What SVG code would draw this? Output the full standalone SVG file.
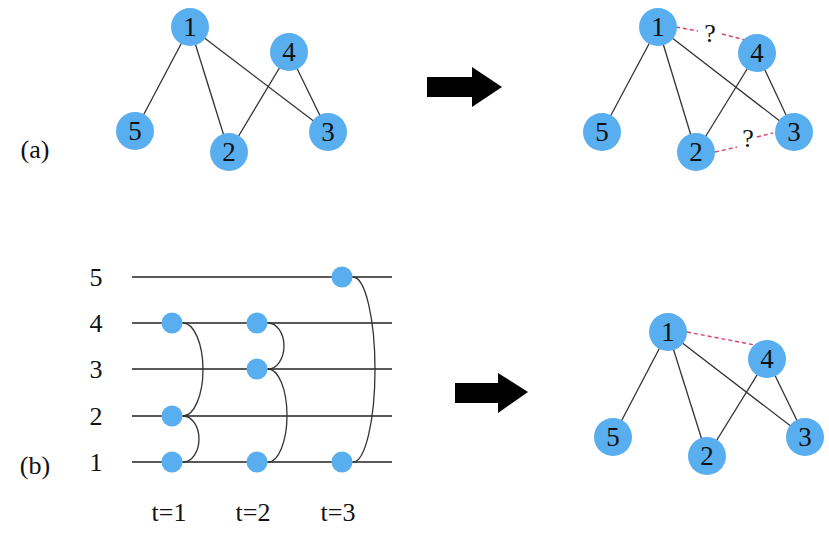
<svg xmlns="http://www.w3.org/2000/svg" width="829" height="544" viewBox="0 0 829 544">
<style>
.e{stroke:#333;stroke-width:1.3;fill:none}
.d{stroke:#d8416a;stroke-width:1.4;stroke-dasharray:4 3;fill:none}
.n{fill:#58aeef}
.t{font-family:"Liberation Serif","Times New Roman",serif;font-size:27px;fill:#111;text-anchor:middle}
.s{font-family:"Liberation Serif","Times New Roman",serif;font-size:26px;fill:#111;text-anchor:middle}
.q{font-family:"Liberation Serif","Times New Roman",serif;font-size:26px;fill:#111;text-anchor:middle}
.h{stroke:#222;stroke-width:1.3}
.a{fill:#000}
</style>
<rect width="829" height="544" fill="#fff"/>
<g id="connectors">
<line class="e" x1="190" y1="27" x2="135" y2="131"/>
<line class="e" x1="190" y1="27" x2="229" y2="152"/>
<line class="e" x1="190" y1="27" x2="328" y2="132"/>
<line class="e" x1="289" y1="52" x2="229" y2="152"/>
<line class="e" x1="289" y1="52" x2="328" y2="132"/>
<line class="e" x1="658" y1="27" x2="602" y2="132"/>
<line class="e" x1="658" y1="27" x2="696" y2="152"/>
<line class="e" x1="658" y1="27" x2="794" y2="132"/>
<line class="e" x1="757" y1="53" x2="696" y2="152"/>
<line class="e" x1="757" y1="53" x2="794" y2="132"/>
<line class="d" x1="676" y1="27" x2="698" y2="31"/>
<line class="d" x1="722" y1="34" x2="745" y2="40"/>
<line class="d" x1="715" y1="152" x2="737" y2="147"/>
<line class="d" x1="757" y1="137" x2="773" y2="133"/>
<line class="e" x1="668" y1="332" x2="613" y2="437"/>
<line class="e" x1="668" y1="332" x2="707" y2="456"/>
<line class="e" x1="668" y1="332" x2="805" y2="437"/>
<line class="e" x1="767" y1="359" x2="707" y2="456"/>
<line class="e" x1="767" y1="359" x2="805" y2="437"/>
<line class="d" x1="687" y1="332" x2="755" y2="345"/>
<line class="h" x1="132" y1="277" x2="392" y2="277"/>
<line class="h" x1="132" y1="323" x2="392" y2="323"/>
<line class="h" x1="132" y1="369" x2="392" y2="369"/>
<line class="h" x1="132" y1="416" x2="392" y2="416"/>
<line class="h" x1="132" y1="462" x2="392" y2="462"/>
<path class="e" d="M183 323 A20 46.5 0 0 1 183 416"/>
<path class="e" d="M183 416 A16 23 0 0 1 183 462"/>
<path class="e" d="M268 323 A16 23 0 0 1 268 369"/>
<path class="e" d="M268 369 A19 46.5 0 0 1 268 462"/>
<path class="e" d="M353 277 A22 92.5 0 0 1 353 462"/>
</g>
<g id="a-left">
<g id="a1"><circle class="n" cx="190" cy="27" r="19"/><text class="t" x="190" y="36">1</text></g>
<g id="a4"><circle class="n" cx="289" cy="52" r="19"/><text class="t" x="289" y="61">4</text></g>
<g id="a5"><circle class="n" cx="135" cy="131" r="19"/><text class="t" x="135" y="140">5</text></g>
<g id="a2"><circle class="n" cx="229" cy="152" r="19"/><text class="t" x="229" y="161">2</text></g>
<g id="a3"><circle class="n" cx="328" cy="132" r="19"/><text class="t" x="328" y="141">3</text></g>
</g>
<g id="a-right">
<g id="ar1"><circle class="n" cx="658" cy="27" r="19"/><text class="t" x="658" y="36">1</text></g>
<g id="ar4"><circle class="n" cx="757" cy="53" r="19"/><text class="t" x="757" y="62">4</text></g>
<g id="ar5"><circle class="n" cx="602" cy="132" r="19"/><text class="t" x="602" y="141">5</text></g>
<g id="ar2"><circle class="n" cx="696" cy="152" r="19"/><text class="t" x="696" y="161">2</text></g>
<g id="ar3"><circle class="n" cx="794" cy="132" r="19"/><text class="t" x="794" y="141">3</text></g>
<text class="q" x="710" y="42">?</text>
<text class="q" x="748" y="147">?</text>
</g>
<g id="b-right">
<g id="br1"><circle class="n" cx="668" cy="332" r="19"/><text class="t" x="668" y="341">1</text></g>
<g id="br4"><circle class="n" cx="767" cy="359" r="19"/><text class="t" x="767" y="368">4</text></g>
<g id="br5"><circle class="n" cx="613" cy="437" r="19"/><text class="t" x="613" y="446">5</text></g>
<g id="br2"><circle class="n" cx="707" cy="456" r="19"/><text class="t" x="707" y="465">2</text></g>
<g id="br3"><circle class="n" cx="805" cy="437" r="19"/><text class="t" x="805" y="446">3</text></g>
</g>
<g id="timeline">
<text class="s" x="96" y="286">5</text>
<text class="s" x="96" y="332">4</text>
<text class="s" x="96" y="378">3</text>
<text class="s" x="96" y="425">2</text>
<text class="s" x="96" y="471">1</text>
<circle class="n" cx="172" cy="323" r="10.5"/>
<circle class="n" cx="172" cy="416" r="10.5"/>
<circle class="n" cx="172" cy="462" r="10.5"/>
<circle class="n" cx="257" cy="323" r="10.5"/>
<circle class="n" cx="257" cy="369" r="10.5"/>
<circle class="n" cx="257" cy="462" r="10.5"/>
<circle class="n" cx="342" cy="277" r="10.5"/>
<circle class="n" cx="342" cy="462" r="10.5"/>
<text class="s" x="169" y="521">t=1</text>
<text class="s" x="253" y="521">t=2</text>
<text class="s" x="338" y="521">t=3</text>
</g>
<g id="labels">
<text class="s" x="35" y="158">(a)</text>
<text class="s" x="35" y="474">(b)</text>
</g>
<g id="arrows">
<polygon class="a" points="427,77 472,77 472,67 502,87 472,107 472,97 427,97"/>
<polygon class="a" points="455,383 498,383 498,373 528,392 498,413 498,403 455,403"/>
</g>
</svg>
